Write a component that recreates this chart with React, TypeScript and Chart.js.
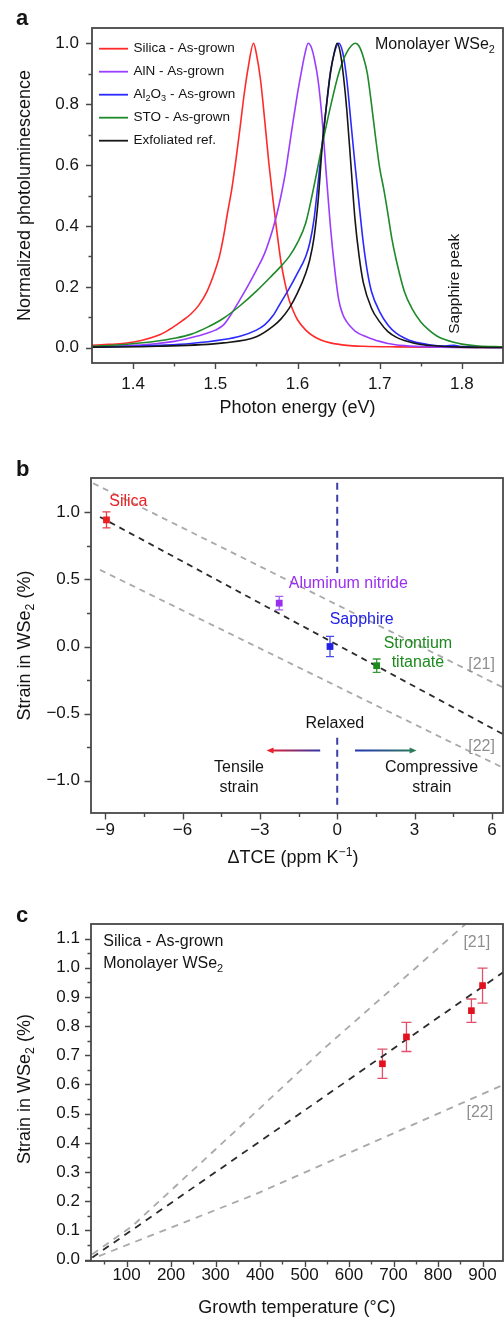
import React, { useEffect, useRef } from "react";
import { Chart, registerables } from "chart.js";

Chart.register(...registerables);

const FONT = '"Liberation Sans", Arial, Helvetica, sans-serif';
const AXIS = "#474747";
const TEXT = "#141414";
const GRAY = "#a9a9a9";

// ---------------- Panel a: PL spectra ----------------
const silicaE = [1.35, 1.37, 1.39, 1.41, 1.43, 1.44, 1.45, 1.46, 1.47, 1.48, 1.49, 1.5, 1.505, 1.51, 1.515, 1.52, 1.525, 1.53, 1.535, 1.54, 1.5465, 1.55, 1.555, 1.56, 1.565, 1.57, 1.575, 1.58, 1.585, 1.59, 1.595, 1.6, 1.61, 1.62, 1.63, 1.64, 1.66, 1.68, 1.72, 1.78, 1.85];
const silicaPL = [0.008, 0.011, 0.015, 0.024, 0.04, 0.053, 0.07, 0.089, 0.11, 0.14, 0.185, 0.255, 0.3, 0.365, 0.445, 0.52, 0.615, 0.72, 0.83, 0.92, 1.0, 0.965, 0.88, 0.75, 0.61, 0.49, 0.38, 0.28, 0.21, 0.155, 0.12, 0.092, 0.058, 0.037, 0.024, 0.016, 0.008, 0.005, 0.003, 0.002, 0.001];

const alnE = [1.35, 1.4, 1.43, 1.45, 1.47, 1.49, 1.5, 1.51, 1.52, 1.53, 1.54, 1.55, 1.56, 1.57, 1.575, 1.58, 1.585, 1.59, 1.595, 1.6, 1.605, 1.609, 1.613, 1.617, 1.62, 1.625, 1.63, 1.635, 1.64, 1.645, 1.65, 1.655, 1.66, 1.665, 1.67, 1.68, 1.69, 1.7, 1.71, 1.73, 1.76, 1.85];
const alnPL = [0.003, 0.008, 0.014, 0.021, 0.033, 0.048, 0.058, 0.075, 0.113, 0.158, 0.205, 0.255, 0.31, 0.39, 0.44, 0.5, 0.57, 0.66, 0.75, 0.835, 0.91, 0.965, 1.0, 0.985, 0.955, 0.88, 0.75, 0.57, 0.4, 0.265, 0.16, 0.11, 0.085, 0.068, 0.055, 0.04, 0.03, 0.021, 0.014, 0.007, 0.003, 0.001];

const sapphireE = [1.35, 1.4, 1.43, 1.47, 1.51, 1.53, 1.55, 1.56, 1.57, 1.58, 1.59, 1.6, 1.61, 1.615, 1.62, 1.625, 1.63, 1.635, 1.64, 1.645, 1.6502, 1.655, 1.66, 1.665, 1.67, 1.675, 1.68, 1.685, 1.69, 1.7, 1.71, 1.72, 1.73, 1.74, 1.76, 1.78, 1.79, 1.8, 1.85];
const sapphirePL = [0.002, 0.005, 0.008, 0.014, 0.027, 0.038, 0.058, 0.075, 0.105, 0.15, 0.195, 0.245, 0.3, 0.345, 0.42, 0.54, 0.67, 0.79, 0.905, 0.97, 1.0, 0.97, 0.88, 0.74, 0.6, 0.47, 0.345, 0.25, 0.185, 0.118, 0.075, 0.048, 0.032, 0.021, 0.01, 0.006, 0.008, 0.004, 0.001];

const stoE = [1.35, 1.39, 1.43, 1.45, 1.47, 1.49, 1.51, 1.53, 1.55, 1.57, 1.58, 1.59, 1.6, 1.61, 1.62, 1.63, 1.64, 1.65, 1.66, 1.6705, 1.675, 1.68, 1.685, 1.69, 1.695, 1.7, 1.705, 1.71, 1.715, 1.72, 1.73, 1.74, 1.75, 1.76, 1.77, 1.78, 1.79, 1.8, 1.82, 1.85];
const stoPL = [0.005, 0.011, 0.022, 0.031, 0.044, 0.067, 0.097, 0.138, 0.186, 0.24, 0.268, 0.3, 0.345, 0.41, 0.53, 0.665, 0.79, 0.9, 0.97, 1.0, 0.99, 0.955, 0.9, 0.8, 0.69, 0.59, 0.52, 0.44, 0.355, 0.29, 0.185, 0.125, 0.085, 0.058, 0.038, 0.026, 0.018, 0.012, 0.006, 0.003];

const exfE = [1.35, 1.43, 1.51, 1.55, 1.57, 1.58, 1.59, 1.6, 1.61, 1.615, 1.62, 1.625, 1.63, 1.635, 1.64, 1.644, 1.6482, 1.652, 1.656, 1.66, 1.665, 1.67, 1.675, 1.68, 1.69, 1.7, 1.71, 1.72, 1.73, 1.75, 1.77, 1.8, 1.85];
const exfPL = [0.002, 0.005, 0.016, 0.036, 0.07, 0.095, 0.13, 0.18, 0.245, 0.29, 0.36, 0.48, 0.66, 0.79, 0.9, 0.96, 1.0, 0.97, 0.89, 0.78, 0.6, 0.42, 0.3, 0.215, 0.13, 0.085, 0.053, 0.035, 0.024, 0.011, 0.006, 0.002, 0.001];

const aLabels = ["Silica - As-grown", "AlN - As-grown", "Al_{2}O_{3} - As-grown", "STO - As-grown", "Exfoliated ref."];
const aColors = ["#ff2a2a", "#9b3dff", "#2a2aff", "#1f8a2a", "#161616"];
const aXTicks = [1.4, 1.5, 1.6, 1.7, 1.8];
const aXMinor = [1.45, 1.55, 1.65, 1.75];
const aYTicks = [0, 0.2, 0.4, 0.6, 0.8, 1.0];
const aYMinor = [0.1, 0.3, 0.5, 0.7, 0.9];

// ---------------- Panel b: strain vs ΔTCE ----------------
const bSubstrates = ["Silica", "Aluminum nitride", "Sapphire", "Strontium titanate"];
const bDeltaTCE = [-8.95, -2.25, -0.28, 1.53];
const bStrain = [0.943, 0.323, 0.0, -0.143];
const bStrainErr = [0.06, 0.05, 0.075, 0.05];
const bColors = ["#ec2024", "#9b2ff0", "#2222e6", "#1c8a1c"];
const bErrColors = ["#e8404a", "#a860f0", "#4a4ae8", "#3a9a3a"];
const bFitX = [-9.2, 6.45];
const bFitY = [0.965, -0.655];
const bRef21X = [-9.47, 6.45];
const bRef21Y = [1.216, -0.307];
const bRef22X = [-9.2, 6.45];
const bRef22Y = [0.571, -0.905];
const bRelaxedTopY = [1.22, 0.548];
const bRelaxedBottomY = [-0.68, -1.19];
const bXTicks = [-9, -6, -3, 0, 3, 6];
const bXMinor = [-7.5, -4.5, -1.5, 1.5, 4.5];
const bYTicks = [-1, -0.5, 0, 0.5, 1];
const bYMinor = [-0.75, -0.25, 0.25, 0.75];

// ---------------- Panel c: strain vs growth temperature ----------------
const cTemp = [675, 729, 875, 900];
const cStrain = [0.671, 0.763, 0.853, 0.939];
const cStrainErr = [0.05, 0.05, 0.04, 0.06];
const cFitT = [23, 413, 948];
const cFitS = [0.007, 0.419, 0.986];
const cRef21T = [23, 113, 330, 548, 862];
const cRef21S = [0.018, 0.115, 0.42, 0.729, 1.15];
const cRef22T = [38, 390, 944];
const cRef22S = [0.012, 0.224, 0.597];
const cXTicks = [100, 200, 300, 400, 500, 600, 700, 800, 900];
const cXMinor = [50, 150, 250, 350, 450, 550, 650, 750, 850];
const cYTicks = [0, 0.1, 0.2, 0.3, 0.4, 0.5, 0.6, 0.7, 0.8, 0.9, 1.0, 1.1];
const cYMinor = [0.05, 0.15, 0.25, 0.35, 0.45, 0.55, 0.65, 0.75, 0.85, 0.95, 1.05];

// ---------------- helpers ----------------
const mk = (xs: number[], ys: number[]) => xs.map((x, i) => ({ x, y: ys[i] }));
const minus = (s: string) => s.replace(/-/g, "\u2212");

type Seg = { t: string; k: number };
function parseRich(s: string): Seg[] {
  const out: Seg[] = [];
  const re = /([_^])\{([^}]*)\}/g;
  let last = 0;
  let m: RegExpExecArray | null;
  while ((m = re.exec(s))) {
    if (m.index > last) out.push({ t: s.slice(last, m.index), k: 0 });
    out.push({ t: m[2], k: m[1] === "^" ? 1 : -1 });
    last = re.lastIndex;
  }
  if (last < s.length) out.push({ t: s.slice(last), k: 0 });
  return out;
}

type TOpts = { size: number; color?: string; align?: string; bold?: boolean; rotate?: number; baseline?: string };
function drawText(ctx: CanvasRenderingContext2D, s: string, x: number, y: number, o: TOpts) {
  const segs = parseRich(s);
  ctx.save();
  ctx.translate(x, y);
  if (o.rotate) ctx.rotate(o.rotate);
  ctx.fillStyle = o.color || TEXT;
  ctx.textBaseline = (o.baseline || "middle") as CanvasTextBaseline;
  ctx.textAlign = "left";
  const font = (sz: number) => `${o.bold ? "bold " : ""}${sz}px ${FONT}`;
  const widths = segs.map((sg) => {
    ctx.font = font(sg.k ? o.size * 0.68 : o.size);
    return ctx.measureText(sg.t).width;
  });
  const total = widths.reduce((a, b) => a + b, 0);
  let cx = o.align === "center" ? -total / 2 : o.align === "right" ? -total : 0;
  segs.forEach((sg, i) => {
    ctx.font = font(sg.k ? o.size * 0.68 : o.size);
    const dy = sg.k === -1 ? o.size * 0.3 : sg.k === 1 ? -o.size * 0.32 : 0;
    ctx.fillText(sg.t, cx, dy);
    cx += widths[i];
  });
  ctx.restore();
}

function drawFrame(ctx: CanvasRenderingContext2D, chart: any, extendBottomLeft = 0) {
  const { left, top, right, bottom } = chart.chartArea;
  ctx.save();
  ctx.strokeStyle = AXIS;
  ctx.lineWidth = 1.8;
  ctx.strokeRect(left, top, right - left, bottom - top);
  if (extendBottomLeft) {
    ctx.beginPath();
    ctx.moveTo(left - extendBottomLeft, bottom);
    ctx.lineTo(left, bottom);
    ctx.stroke();
  }
  ctx.restore();
}

function drawTicks(ctx: CanvasRenderingContext2D, chart: any, t: { xMaj: number[]; xMin: number[]; yMaj: number[]; yMin: number[]; maj: number; min: number }) {
  const { left, bottom } = chart.chartArea;
  const sx = chart.scales.x;
  const sy = chart.scales.y;
  ctx.save();
  ctx.strokeStyle = AXIS;
  ctx.lineWidth = 1.4;
  ctx.beginPath();
  const xt = (v: number, len: number) => {
    const p = Math.round(sx.getPixelForValue(v)) + 0.5;
    ctx.moveTo(p, bottom);
    ctx.lineTo(p, bottom + len);
  };
  const yt = (v: number, len: number) => {
    const p = Math.round(sy.getPixelForValue(v)) + 0.5;
    ctx.moveTo(left, p);
    ctx.lineTo(left - len, p);
  };
  t.xMaj.forEach((v) => xt(v, t.maj));
  t.xMin.forEach((v) => xt(v, t.min));
  t.yMaj.forEach((v) => yt(v, t.maj));
  t.yMin.forEach((v) => yt(v, t.min));
  ctx.stroke();
  ctx.restore();
}

function drawErrorBars(ctx: CanvasRenderingContext2D, chart: any, xs: number[], ys: number[], errs: number[], colors: string[], cap: number) {
  const sx = chart.scales.x;
  const sy = chart.scales.y;
  ctx.save();
  ctx.lineWidth = 1.3;
  xs.forEach((x, i) => {
    const px = sx.getPixelForValue(x);
    const y1 = sy.getPixelForValue(ys[i] + errs[i]);
    const y2 = sy.getPixelForValue(ys[i] - errs[i]);
    ctx.strokeStyle = colors[i];
    ctx.beginPath();
    ctx.moveTo(px, y1);
    ctx.lineTo(px, y2);
    ctx.moveTo(px - cap, y1);
    ctx.lineTo(px + cap, y1);
    ctx.moveTo(px - cap, y2);
    ctx.lineTo(px + cap, y2);
    ctx.stroke();
  });
  ctx.restore();
}

function drawArrow(ctx: CanvasRenderingContext2D, chart: any, x0: number, x1: number, y: number, c0: string, c1: string) {
  const sx = chart.scales.x;
  const sy = chart.scales.y;
  const p0 = sx.getPixelForValue(x0);
  const p1 = sx.getPixelForValue(x1);
  const py = sy.getPixelForValue(y);
  const dir = p1 > p0 ? 1 : -1;
  ctx.save();
  const g = ctx.createLinearGradient(p0, py, p1, py);
  g.addColorStop(0, c0);
  g.addColorStop(1, c1);
  ctx.strokeStyle = g;
  ctx.lineWidth = 2;
  ctx.beginPath();
  ctx.moveTo(p0, py);
  ctx.lineTo(p1 - dir * 5, py);
  ctx.stroke();
  ctx.fillStyle = c1;
  ctx.beginPath();
  ctx.moveTo(p1, py);
  ctx.lineTo(p1 - dir * 7, py - 3);
  ctx.lineTo(p1 - dir * 7, py + 3);
  ctx.closePath();
  ctx.fill();
  ctx.restore();
}

type Ann = { t: string; x: number; y: number; color?: string; size?: number; align?: string; rotate?: number };
function drawAnnotations(ctx: CanvasRenderingContext2D, chart: any, anns: Ann[]) {
  const sx = chart.scales.x;
  const sy = chart.scales.y;
  anns.forEach((a) =>
    drawText(ctx, a.t, sx.getPixelForValue(a.x), sy.getPixelForValue(a.y), {
      size: a.size || 16,
      color: a.color,
      align: a.align || "center",
      rotate: a.rotate,
    })
  );
}

type Spec = {
  height: number;
  area: { left: number; top: number; right: number; bottom: number };
  x: { min: number; max: number; ticks: number[]; fmt: (v: number) => string; pad: number };
  y: { min: number; max: number; ticks: number[]; fmt: (v: number) => string; pad: number };
  datasets: any[];
  before?: (chart: any) => void;
  after: (chart: any) => void;
};

function makeConfig(p: Spec): any {
  const tickFont = { family: FONT, size: 17 };
  return {
    type: "line",
    data: { datasets: p.datasets },
    options: {
      responsive: false,
      maintainAspectRatio: false,
      animation: false,
      devicePixelRatio: 1,
      events: [],
      layout: { padding: { left: 0, top: p.area.top, right: 504 - p.area.right, bottom: 0 }, autoPadding: false },
      plugins: { legend: { display: false }, tooltip: { enabled: false }, title: { display: false } },
      elements: { line: { tension: 0 } },
      scales: {
        x: {
          type: "linear",
          min: p.x.min,
          max: p.x.max,
          grid: { display: false, drawTicks: false },
          border: { display: false },
          ticks: { padding: p.x.pad, font: tickFont, color: TEXT, autoSkip: false, maxRotation: 0, callback: (v: number) => p.x.fmt(v) },
          afterBuildTicks: (s: any) => {
            s.ticks = p.x.ticks.map((v) => ({ value: v }));
          },
          afterFit: (s: any) => {
            s.height = p.height - p.area.bottom;
          },
        },
        y: {
          type: "linear",
          min: p.y.min,
          max: p.y.max,
          grid: { display: false, drawTicks: false },
          border: { display: false },
          ticks: { padding: p.y.pad, font: tickFont, color: TEXT, autoSkip: false, callback: (v: number) => p.y.fmt(v) },
          afterBuildTicks: (s: any) => {
            s.ticks = p.y.ticks.map((v) => ({ value: v }));
          },
          afterFit: (s: any) => {
            s.width = p.area.left;
          },
        },
      },
    },
    plugins: [
      {
        id: "decor",
        beforeDatasetsDraw: (chart: any) => {
          if (p.before) p.before(chart);
        },
        afterDraw: (chart: any) => p.after(chart),
      },
    ],
  };
}

// ---------------- Panel specs ----------------
function specA(): Spec {
  const series = [
    [silicaE, silicaPL],
    [alnE, alnPL],
    [sapphireE, sapphirePL],
    [stoE, stoPL],
    [exfE, exfPL],
  ];
  const datasets = series.map(([e, v], i) => ({
    label: aLabels[i],
    data: mk(e, v),
    borderColor: aColors[i],
    borderWidth: 1.6,
    pointRadius: 0,
    cubicInterpolationMode: "monotone",
    order: series.length - i,
  }));
  const anns: Ann[] = [
    { t: "Monolayer WSe_{2}", x: 1.6943, y: 0.994, align: "left" },
    { t: "Sapphire peak", x: 1.7916, y: 0.21, size: 15.5, rotate: -Math.PI / 2 },
  ];
  return {
    height: 430,
    area: { left: 92, top: 28, right: 503, bottom: 363 },
    x: { min: 1.35, max: 1.85, ticks: aXTicks, fmt: (v) => v.toFixed(1), pad: 11 },
    y: { min: -0.05, max: 1.05, ticks: aYTicks, fmt: (v) => v.toFixed(1), pad: 13 },
    datasets,
    after: (chart) => {
      const ctx = chart.ctx;
      const { left, top, right, bottom } = chart.chartArea;
      drawFrame(ctx, chart);
      drawTicks(ctx, chart, { xMaj: aXTicks, xMin: aXMinor, yMaj: aYTicks, yMin: aYMinor, maj: 6, min: 3.5 });
      aLabels.forEach((lab, i) => {
        const y = top + 20.7 + i * 23;
        ctx.save();
        ctx.strokeStyle = aColors[i];
        ctx.lineWidth = 1.8;
        ctx.beginPath();
        ctx.moveTo(left + 7, y);
        ctx.lineTo(left + 36, y);
        ctx.stroke();
        ctx.restore();
        drawText(ctx, lab, left + 41.5, y, { size: 13.5 });
      });
      drawAnnotations(ctx, chart, anns);
      drawText(ctx, "Normalized photoluminescence", 25, (top + bottom) / 2, { size: 18, rotate: -Math.PI / 2, align: "center" });
      drawText(ctx, "Photon energy (eV)", (left + right) / 2, 407.7, { size: 18, align: "center" });
      drawText(ctx, "a", 16, 25, { size: 22, bold: true, baseline: "alphabetic" });
    },
  };
}

function specB(): Spec {
  const dashed = (data: any, color: string, w: number, dash: number[], order: number) => ({
    data,
    borderColor: color,
    borderWidth: w,
    borderDash: dash,
    pointRadius: 0,
    order,
  });
  const datasets = [
    {
      label: "substrates",
      data: mk(bDeltaTCE, bStrain),
      showLine: false,
      pointStyle: "rect",
      pointRadius: 4.8,
      pointBorderWidth: 0,
      pointBackgroundColor: bColors,
      pointBorderColor: bColors,
      order: 0,
    },
    dashed(mk(bFitX, bFitY), "#2b2b2b", 1.8, [6, 5], 1),
    dashed(mk(bRef21X, bRef21Y), GRAY, 1.8, [6, 5], 2),
    dashed(mk(bRef22X, bRef22Y), GRAY, 1.8, [6, 5], 3),
    dashed(mk([0, 0], bRelaxedTopY), "#3d3da8", 2, [7, 5], 4),
    dashed(mk([0, 0], bRelaxedBottomY), "#3d3da8", 2, [7, 5], 5),
  ];
  const anns: Ann[] = [
    { t: bSubstrates[0], x: -8.1, y: 1.079, color: bColors[0] },
    { t: bSubstrates[1], x: 0.43, y: 0.467, color: bColors[1] },
    { t: bSubstrates[2], x: 0.95, y: 0.199, color: bColors[2] },
    { t: "Strontium", x: 3.13, y: 0.02, color: bColors[3] },
    { t: "titanate", x: 3.13, y: -0.119, color: bColors[3] },
    { t: "[21]", x: 5.6, y: -0.136, color: "#8f8f8f" },
    { t: "[22]", x: 5.6, y: -0.749, color: "#8f8f8f" },
    { t: "Relaxed", x: -0.09, y: -0.575 },
    { t: "Tensile", x: -3.81, y: -0.905 },
    { t: "strain", x: -3.81, y: -1.054 },
    { t: "Compressive", x: 3.66, y: -0.905 },
    { t: "strain", x: 3.67, y: -1.054 },
  ];
  return {
    height: 440,
    area: { left: 91, top: 48, right: 503, bottom: 383 },
    x: { min: -9.55, max: 6.43, ticks: bXTicks, fmt: (v) => minus(String(v)), pad: 7 },
    y: { min: -1.24, max: 1.255, ticks: bYTicks, fmt: (v) => minus(v.toFixed(1)), pad: 11 },
    datasets,
    before: (chart) => drawErrorBars(chart.ctx, chart, bDeltaTCE, bStrain, bStrainErr, bErrColors, 4),
    after: (chart) => {
      const ctx = chart.ctx;
      const { top, bottom } = chart.chartArea;
      drawFrame(ctx, chart);
      drawTicks(ctx, chart, { xMaj: bXTicks, xMin: bXMinor, yMaj: bYTicks, yMin: bYMinor, maj: 6.5, min: 4 });
      drawArrow(ctx, chart, -0.66, -2.74, -0.775, "#2e34a8", "#ee1f2a");
      drawArrow(ctx, chart, 0.69, 3.08, -0.775, "#2434b4", "#2d7d5a");
      drawAnnotations(ctx, chart, anns);
      drawText(ctx, "Strain in WSe_{2} (%)", 25, (top + bottom) / 2, { size: 18, rotate: -Math.PI / 2, align: "center" });
      drawText(ctx, "\u0394TCE (ppm K^{\u22121})", 293, 428, { size: 18, align: "center" });
      drawText(ctx, "b", 16, 45.7, { size: 22, bold: true, baseline: "alphabetic" });
    },
  };
}

function specC(): Spec {
  const dashed = (data: any, color: string, w: number, order: number) => ({
    data,
    borderColor: color,
    borderWidth: w,
    borderDash: [7, 6],
    pointRadius: 0,
    order,
  });
  const datasets = [
    {
      label: "Silica",
      data: mk(cTemp, cStrain),
      showLine: false,
      pointStyle: "rect",
      pointRadius: 4.7,
      pointBorderWidth: 0,
      pointBackgroundColor: "#e3101e",
      pointBorderColor: "#e3101e",
      order: 0,
    },
    dashed(mk(cFitT, cFitS), "#2b2b2b", 1.8, 1),
    dashed(mk(cRef21T, cRef21S), GRAY, 1.8, 2),
    dashed(mk(cRef22T, cRef22S), GRAY, 1.8, 3),
  ];
  const anns: Ann[] = [
    { t: "Silica - As-grown", x: 47.6, y: 1.0906, align: "left" },
    { t: "Monolayer WSe_{2}", x: 47.6, y: 1.0128, align: "left" },
    { t: "[21]", x: 887, y: 1.087, color: "#8f8f8f" },
    { t: "[22]", x: 894, y: 0.504, color: "#8f8f8f" },
  ];
  return {
    height: 447,
    area: { left: 91, top: 54, right: 503, bottom: 391 },
    x: { min: 20, max: 946, ticks: cXTicks, fmt: (v) => String(v), pad: 4 },
    y: { min: -0.005, max: 1.15, ticks: cYTicks, fmt: (v) => v.toFixed(1), pad: 11 },
    datasets,
    before: (chart) => drawErrorBars(chart.ctx, chart, cTemp, cStrain, cStrainErr, ["#e0506a", "#e0506a", "#e0506a", "#e0506a"], 5),
    after: (chart) => {
      const ctx = chart.ctx;
      const { left, right } = chart.chartArea;
      drawFrame(ctx, chart, 6);
      drawTicks(ctx, chart, { xMaj: cXTicks, xMin: cXMinor, yMaj: cYTicks, yMin: cYMinor, maj: 6, min: 3.5 });
      drawAnnotations(ctx, chart, anns);
      drawText(ctx, "Strain in WSe_{2} (%)", 25, 219, { size: 18, rotate: -Math.PI / 2, align: "center" });
      drawText(ctx, "Growth temperature (\u00B0C)", (left + right) / 2, 438, { size: 18, align: "center" });
      drawText(ctx, "c", 16, 51.7, { size: 22, bold: true, baseline: "alphabetic" });
    },
  };
}

function Panel({ top, spec }: { top: number; spec: () => Spec }) {
  const ref = useRef<HTMLCanvasElement>(null);
  const s = spec();
  useEffect(() => {
    const chart = new Chart(ref.current as HTMLCanvasElement, makeConfig(spec()));
    return () => chart.destroy();
  }, []);
  return (
    <canvas
      ref={ref}
      width={504}
      height={s.height}
      style={{ position: "absolute", left: 0, top, width: 504, height: s.height, display: "block" }}
    />
  );
}

export default function App() {
  return (
    <div style={{ position: "absolute", left: 0, top: 0, width: 504, height: 1317, background: "#fff", overflow: "hidden" }}>
      <Panel top={0} spec={specA} />
      <Panel top={430} spec={specB} />
      <Panel top={870} spec={specC} />
    </div>
  );
}
